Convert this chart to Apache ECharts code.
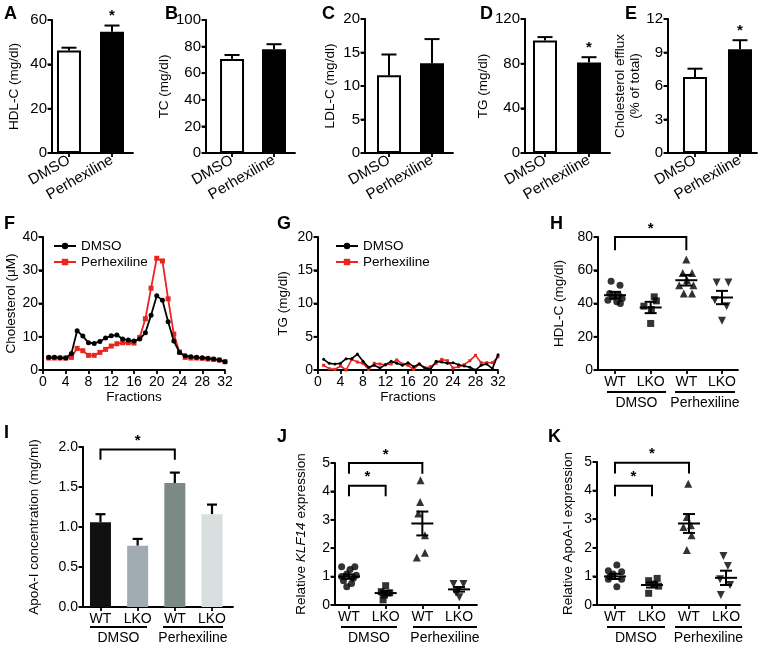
<!DOCTYPE html>
<html><head><meta charset="utf-8">
<script src="https://cdn.jsdelivr.net/npm/echarts@6/dist/echarts.min.js"></script>
<style>html,body{margin:0;padding:0;background:#fff}#c{width:761px;height:648px}</style>
</head><body><div id="c"></div>
<script>
// ---------------- DATA ----------------
const barGroups = ['DMSO', 'Perhexiline'];
const hdlMean = [46.2, 54.7];
const hdlSem = [1.3, 2.8];
const hdlSig = ['', '*'];
const tcMean = [70.7, 78.0];
const tcSem = [3.0, 3.8];
const tcSig = ['', ''];
const ldlMean = [11.6, 13.4];
const ldlSem = [3.1, 3.6];
const ldlSig = ['', ''];
const tgMean = [100.8, 81.0];
const tgSem = [3.0, 4.8];
const tgSig = ['', '*'];
const effluxMean = [6.8, 9.3];
const effluxSem = [0.75, 0.8];
const effluxSig = ['', '*'];

const fractions = [1,2,3,4,5,6,7,8,9,10,11,12,13,14,15,16,17,18,19,20,21,22,23,24,25,26,27,28,29,30,31,32];
const fractionTicks = [0,4,8,12,16,20,24,28,32];
const cholDmso = [3.8,3.8,3.7,3.6,5.0,11.8,10.2,8.2,8.0,8.6,9.6,10.3,10.5,9.3,9.0,8.7,9.3,11.2,16.5,22.3,21.0,14.5,8.7,5.3,4.3,4.0,3.8,3.7,3.5,3.3,3.0,2.5];
const cholPerhex = [3.6,3.6,3.6,3.6,3.8,6.5,5.8,4.4,4.4,5.3,6.2,7.2,7.9,8.2,8.2,8.1,9.8,15.4,24.6,33.6,32.8,21.4,10.8,5.4,3.8,3.6,3.6,3.5,3.3,3.2,3.0,2.5];
const tgFracDmso = [1.6,1.0,0.9,1.0,1.7,1.7,2.4,1.3,0.4,0.7,0.3,0.8,1.3,1.0,0.7,1.1,0.5,0.9,0.3,0.1,1.3,1.2,1.0,1.1,0.8,0.6,0.4,0.0,0.7,0.9,0.2,2.3];
const tgFracPerhex = [0.7,0.2,0.1,0.6,0.0,1.6,1.2,1.0,0.1,1.0,0.9,0.8,0.9,1.5,0.9,0.7,0.1,0.9,0.3,0.5,1.0,1.6,1.4,0.3,0.5,0.8,1.4,2.2,1.1,1.1,1.1,2.0];

const genoCats = ['WT', 'LKO', 'WT', 'LKO'];
const treatGroups = ['DMSO', 'Perhexiline'];

// H: HDL-C per mouse, [horizontal jitter, value]
const hWtDmso = [[-0.11,53.4],[0.14,51],[-0.15,46],[0.1,45],[-0.05,44],[0.2,43],[-0.2,42],[0.05,41],[0.15,40]];
const hLkoDmso = [[0.1,44],[0.16,41.6],[-0.19,38.4],[0.02,36.4],[0.0,28]];
const hWtPerhex = [[0.0,66.4],[-0.1,58.4],[0.16,58.4],[0.02,54],[-0.2,51],[0.2,51],[-0.07,46],[0.16,46]];
const hLkoPerhex = [[-0.15,52.6],[0.18,52.6],[-0.2,42],[0.13,38.4],[0.0,29.6]];
const hMean = [45, 37.6, 54, 43.6];
const hSem = [2.0, 3.4, 3.2, 4.0];
const hBrackets = [[0, 2, 80, 72]];

// I: ApoA-I concentration
const apoaConc = [1.06, 0.766, 1.55, 1.16];
const apoaConcSem = [0.1, 0.085, 0.13, 0.12];
const apoaBrackets = [[0, 2, 1.97, 1.84]];

// J: KLF14
const jWtDmso = [[-0.2,1.35],[0.16,1.35],[0.03,1.25],[-0.06,1.09],[0.2,1.05],[-0.2,1.0],[0.12,0.94],[-0.15,0.85],[0.07,0.76],[-0.06,0.64]];
const jLkoDmso = [[0.0,0.68],[-0.12,0.47],[0.11,0.43],[-0.03,0.35],[-0.07,0.18]];
const jWtPerhex = [[-0.05,4.39],[-0.06,3.63],[-0.11,3.22],[0.07,2.46],[0.07,1.84],[-0.15,1.67]];
const jLkoPerhex = [[-0.15,0.74],[0.12,0.74],[-0.02,0.53],[-0.08,0.43],[0.01,0.27]];
const jMean = [1.0, 0.42, 2.87, 0.55];
const jSem = [0.08, 0.08, 0.42, 0.08];
const jBrackets = [[0, 2, 5.0, 4.62], [0, 1, 4.2, 3.83]];

// K: ApoA-I expression
const kWtDmso = [[0.05,1.4],[-0.18,1.2],[0.18,1.16],[-0.05,1.08],[-0.14,0.99],[0.18,0.9],[-0.18,0.9],[0.05,0.64]];
const kLkoDmso = [[0.14,0.93],[-0.09,0.85],[0.05,0.73],[0.18,0.66],[-0.09,0.41]];
const kWtPerhex = [[-0.02,4.24],[-0.06,3.08],[0.05,2.79],[-0.15,2.73],[0.07,2.44],[-0.06,1.92]];
const kLkoPerhex = [[-0.07,1.71],[0.05,1.36],[-0.16,0.9],[0.11,0.7],[-0.14,0.35]];
const kMean = [1.0, 0.70, 2.85, 0.95];
const kSem = [0.09, 0.09, 0.33, 0.25];
const kBrackets = [[0, 2, 4.97, 4.6], [0, 1, 4.17, 3.8]];

// ---------------- LAYOUT / STYLE ----------------
const FONT = '"Liberation Sans", Arial, Helvetica, sans-serif';
const RED = '#e8261f';
function AX() { return {show: true, lineStyle: {color: '#000', width: 1.8}}; }
function TICK() { return {show: true, length: 4, lineStyle: {color: '#000', width: 1.8}}; }

const grids = [
  {left: 52, top: 20, width: 81, height: 133},   // A
  {left: 206, top: 20, width: 89, height: 133},  // B
  {left: 365, top: 19, width: 88, height: 134},  // C
  {left: 525, top: 19, width: 85, height: 134},  // D
  {left: 668, top: 19, width: 89, height: 134},  // E
  {left: 43, top: 237, width: 182, height: 133}, // F
  {left: 318, top: 237, width: 180, height: 133},// G
  {left: 598, top: 237, width: 140, height: 133},// H
  {left: 83, top: 447, width: 150, height: 160}, // I
  {left: 335, top: 463, width: 142, height: 142},// J
  {left: 597, top: 462, width: 143, height: 143} // K
];

const xAxes = [], yAxes = [], series = [];
const graphic = [];
const catOffset = {};

function catX(gi, lead, trail, labels, rotate, labelMargin, fs) {
  catOffset[gi] = lead;
  const vals = labels.map((_, i) => i + lead);
  xAxes.push({
    type: 'value', gridIndex: gi, min: 0, max: lead + labels.length - 1 + trail, splitLine: {show: false},
    axisLine: AX(), axisTick: Object.assign({customValues: vals}, TICK()),
    axisLabel: {customValues: vals, formatter: v => labels[Math.round(v - lead)], rotate: rotate || 0,
      margin: labelMargin, color: '#000', fontSize: fs, fontFamily: FONT}
  });
}
function valY(gi, min, max, interval, name, nameGap, fs, fmt, rich) {
  yAxes.push({
    type: 'value', gridIndex: gi, min: min, max: max, interval: interval,
    splitLine: {show: false}, axisLine: AX(), axisTick: TICK(),
    axisLabel: {color: '#000', fontSize: fs, fontFamily: FONT, margin: 5, formatter: fmt},
    name: name, nameLocation: 'middle', nameGap: nameGap, nameRotate: 90,
    nameTextStyle: {color: '#000', fontSize: 13.5, fontFamily: FONT, lineHeight: 15, rich: rich}
  });
  // axis frame line + ticks along the grid's left edge (layout only, not data)
  const g = grids[gi];
  graphic.push({type: 'line', z: 100, shape: {x1: g.left, y1: g.top - 0.5, x2: g.left, y2: g.top + g.height + 0.9},
    style: {stroke: '#000', lineWidth: 1.8}});
  const n = Math.round((max - min) / interval);
  for (let k = 0; k <= n; k++) {
    const y = g.top + g.height - g.height * k / n;
    graphic.push({type: 'line', z: 100, shape: {x1: g.left - 4.5, y1: y, x2: g.left, y2: y}, style: {stroke: '#000', lineWidth: 1.8}});
  }
}

function errRender(capW, lw) {
  return function (params, api) {
    const x = api.value(0), m = api.value(1), s = api.value(2);
    const b = api.coord([x, m]), t = api.coord([x, m + s]);
    const children = [
      {type: 'line', shape: {x1: b[0], y1: b[1], x2: t[0], y2: t[1]}, style: {stroke: '#000', lineWidth: lw}},
      {type: 'line', shape: {x1: t[0] - capW / 2, y1: t[1], x2: t[0] + capW / 2, y2: t[1]}, style: {stroke: '#000', lineWidth: lw}}
    ];
    if (api.value(3) === 1) {
      children.push({type: 'text', x: t[0], y: t[1] - 2, style: {text: '*', fontSize: 15, fontWeight: 'bold', fontFamily: FONT, fill: '#000', align: 'center', verticalAlign: 'bottom'}});
    }
    return {type: 'group', children: children};
  };
}

function barPanel(gi, means, sems, sigs) {
  const o = catOffset[gi];
  series.push({
    type: 'bar', xAxisIndex: gi, yAxisIndex: gi, barWidth: 24, z: 3,
    data: means.map((m, i) => ({value: [i + o, m], itemStyle: i === 0 ?
      {color: '#fff', borderColor: '#000', borderWidth: 2} : {color: '#000', borderColor: '#000', borderWidth: 2}}))
  });
  series.push({
    type: 'custom', xAxisIndex: gi, yAxisIndex: gi, z: 2, clip: false,
    renderItem: errRender(15, 2),
    data: means.map((m, i) => [i + o, m, sems[i], sigs[i] === '*' ? 1 : 0])
  });
}

function bracketSeries(gi, brackets) {
  const o = catOffset[gi];
  series.push({
    type: 'custom', xAxisIndex: gi, yAxisIndex: gi, clip: false, z: 5,
    renderItem: function (params, api) {
      const x1 = api.value(0), x2 = api.value(1), y = api.value(2), d = api.value(3);
      const a = api.coord([x1, d]), b = api.coord([x1, y]), c = api.coord([x2, y]), e = api.coord([x2, d]);
      return {type: 'group', children: [
        {type: 'polyline', shape: {points: [a, b, c, e]}, style: {stroke: '#000', lineWidth: 2, fill: null}},
        {type: 'text', x: (b[0] + c[0]) / 2, y: b[1] - 1, style: {text: '*', fontSize: 15, fontWeight: 'bold', fontFamily: FONT, fill: '#000', align: 'center', verticalAlign: 'bottom'}}
      ]};
    },
    data: brackets.map(br => [br[0] + o, br[1] + o, br[2], br[3]])
  });
}

function meanSemSeries(gi, means, sems) {
  const o = catOffset[gi];
  series.push({
    type: 'custom', xAxisIndex: gi, yAxisIndex: gi, z: 4,
    renderItem: function (params, api) {
      const x = api.value(0), m = api.value(1), s = api.value(2);
      const c = api.coord([x, m]), t = api.coord([x, m + s]), b = api.coord([x, m - s]);
      const st = {stroke: '#000', lineWidth: 2};
      return {type: 'group', children: [
        {type: 'line', shape: {x1: c[0] - 11, y1: c[1], x2: c[0] + 11, y2: c[1]}, style: st},
        {type: 'line', shape: {x1: t[0], y1: t[1], x2: b[0], y2: b[1]}, style: st},
        {type: 'line', shape: {x1: t[0] - 6, y1: t[1], x2: t[0] + 6, y2: t[1]}, style: st},
        {type: 'line', shape: {x1: b[0] - 6, y1: b[1], x2: b[0] + 6, y2: b[1]}, style: st}
      ]};
    },
    data: means.map((m, i) => [i + o, m, sems[i]])
  });
}

const dotSymbols = [{s: 'circle', r: 0, z: 7}, {s: 'rect', r: 0, z: 7}, {s: 'triangle', r: 0, z: 8}, {s: 'triangle', r: 180, z: 8}];
function dotPanel(gi, groups, means, sems, brackets) {
  const o = catOffset[gi];
  groups.forEach((pts, k) => {
    series.push({
      type: 'scatter', name: 'g' + gi + '_' + k, xAxisIndex: gi, yAxisIndex: gi,
      symbol: dotSymbols[k].s, symbolRotate: dotSymbols[k].r, symbolSize: dotSymbols[k].z,
      itemStyle: {color: '#000'}, data: pts.map(p => [k + o + p[0], p[1]])
    });
  });
  meanSemSeries(gi, means, sems);
  bracketSeries(gi, brackets);
}

// A-E
catX(0, 0.395, 0.488, barGroups, 30, 6, 15);
valY(0, 0, 60, 20, 'HDL-C (mg/dl)', 30, 15);
barPanel(0, hdlMean, hdlSem, hdlSig);

catX(1, 0.62, 0.5, barGroups, 30, 6, 15);
valY(1, 0, 100, 20, 'TC (mg/dl)', 26, 15);
barPanel(1, tcMean, tcSem, tcSig);

catX(2, 0.558, 0.488, barGroups, 30, 6, 15);
valY(2, 0, 20, 5, 'LDL-C (mg/dl)', 27, 15);
barPanel(2, ldlMean, ldlSem, ldlSig);

catX(3, 0.4545, 0.477, barGroups, 30, 6, 15);
valY(3, 0, 120, 40, 'TG (mg/dl)', 30, 15);
barPanel(3, tgMean, tgSem, tgSig);

catX(4, 0.6, 0.378, barGroups, 30, 6, 15);
valY(4, 0, 12, 3, 'Cholesterol efflux\n(% of total)', 13, 15);
barPanel(4, effluxMean, effluxSem, effluxSig);

// F, G line charts
[5, 6].forEach(gi => {
  xAxes.push({
    type: 'value', gridIndex: gi, min: fractionTicks[0], max: fractionTicks[fractionTicks.length - 1], interval: 4,
    splitLine: {show: false}, axisLine: AX(), axisTick: TICK(),
    axisLabel: {color: '#000', fontSize: 14, fontFamily: FONT, margin: 5},
    name: 'Fractions', nameLocation: 'middle', nameGap: 19,
    nameTextStyle: {color: '#000', fontSize: 13.5, fontFamily: FONT}
  });
});
valY(5, 0, 40, 10, 'Cholesterol (\u03bcM)', 23, 14);
valY(6, 0, 20, 5, 'TG (mg/dl)', 27, 14);
series.push({type: 'line', name: 'DMSO', xAxisIndex: 5, yAxisIndex: 5, symbol: 'circle', symbolSize: 5, z: 4,
  lineStyle: {color: '#000', width: 1.8}, itemStyle: {color: '#000'}, data: fractions.map((f, i) => [f, cholDmso[i]])});
series.push({type: 'line', name: 'Perhexiline', xAxisIndex: 5, yAxisIndex: 5, symbol: 'rect', symbolSize: 5, z: 3,
  lineStyle: {color: RED, width: 1.8}, itemStyle: {color: RED}, data: fractions.map((f, i) => [f, cholPerhex[i]])});
series.push({type: 'line', name: 'DMSO', xAxisIndex: 6, yAxisIndex: 6, symbol: 'circle', symbolSize: 3, z: 4,
  lineStyle: {color: '#000', width: 1.6}, itemStyle: {color: '#000'}, data: fractions.map((f, i) => [f, tgFracDmso[i]])});
series.push({type: 'line', name: 'Perhexiline', xAxisIndex: 6, yAxisIndex: 6, symbol: 'rect', symbolSize: 3, z: 3,
  lineStyle: {color: RED, width: 1.6}, itemStyle: {color: RED}, data: fractions.map((f, i) => [f, tgFracPerhex[i]])});

// H
catX(7, 0.477, 0.449, genoCats, 0, 5, 14);
valY(7, 0, 80, 20, 'HDL-C (mg/dl)', 31, 14);
dotPanel(7, [hWtDmso, hLkoDmso, hWtPerhex, hLkoPerhex], hMean, hSem, hBrackets);

// I
catX(8, 0.47, 0.565, genoCats, 0, 5, 14);
valY(8, 0, 2, 0.5, 'ApoA-I concentration (mg/ml)', 41, 14, v => v.toFixed(1));
const iColors = ['#111111', '#a0acb1', '#7b8987', '#d9dfde'];
series.push({type: 'bar', xAxisIndex: 8, yAxisIndex: 8, barWidth: 21, z: 3,
  data: apoaConc.map((v, i) => ({value: [i + catOffset[8], v], itemStyle: {color: iColors[i]}}))});
series.push({type: 'custom', xAxisIndex: 8, yAxisIndex: 8, z: 2, clip: false, renderItem: errRender(10, 2.2),
  data: apoaConc.map((v, i) => [i + catOffset[8], v, apoaConcSem[i], 0])});
bracketSeries(8, apoaBrackets);

// J
catX(9, 0.381, 0.49, genoCats, 0, 5, 14);
valY(9, 0, 5, 1, 'Relative {i|KLF14} expression', 26, 14, null, {i: {fontStyle: 'italic', fontSize: 13.5, fontFamily: FONT, color: '#000'}});
dotPanel(9, [jWtDmso, jLkoDmso, jWtPerhex, jLkoPerhex], jMean, jSem, jBrackets);

// K
catX(10, 0.486, 0.378, genoCats, 0, 5, 14);
valY(10, 0, 5, 1, 'Relative ApoA-I expression', 21, 14);
dotPanel(10, [kWtDmso, kLkoDmso, kWtPerhex, kLkoPerhex], kMean, kSem, kBrackets);

// ---------------- GRAPHIC (letters, group labels) ----------------
const letters = [['A',4,5],['B',165,5],['C',322,5],['D',480,5],['E',625,5],['F',4,215],['G',277,215],['H',550,215],['I',4,424],['J',277,428],['K',548,428]];
letters.forEach(l => graphic.push({type: 'text', left: l[1], top: l[2],
  style: {text: l[0], fontSize: 18, fontWeight: 'bold', fontFamily: '"Liberation Sans", Arial, sans-serif', fill: '#000'}}));
function groupLabels(y, segs) {
  segs.forEach((s, i) => {
    graphic.push({type: 'line', shape: {x1: s[0], y1: y, x2: s[1], y2: y}, style: {stroke: '#000', lineWidth: 2}});
    graphic.push({type: 'text', x: (s[0] + s[1]) / 2, y: y + 11,
      style: {text: treatGroups[i], fontSize: 14, fontFamily: FONT, fill: '#000', align: 'center', verticalAlign: 'middle'}});
  });
}
groupLabels(392, [[607, 666], [675, 735]]);
groupLabels(627, [[90, 147], [163, 223]]);
groupLabels(627, [[341, 397], [413, 477]]);
groupLabels(627, [[607, 665], [675, 742]]);

const legendBase = {orient: 'vertical', itemGap: 2, itemWidth: 22, itemHeight: 8,
  textStyle: {color: '#000', fontSize: 13.5, fontFamily: FONT}, data: ['DMSO', 'Perhexiline'], selectedMode: false};

const chart = echarts.init(document.getElementById('c'), null, {renderer: 'canvas'});
chart.setOption({
  animation: false,
  backgroundColor: '#fff',
  grid: grids,
  xAxis: xAxes,
  yAxis: yAxes,
  legend: [Object.assign({left: 48, top: 234}, legendBase), Object.assign({left: 330, top: 234}, legendBase)],
  graphic: graphic,
  series: series
});
</script>
</body></html>
